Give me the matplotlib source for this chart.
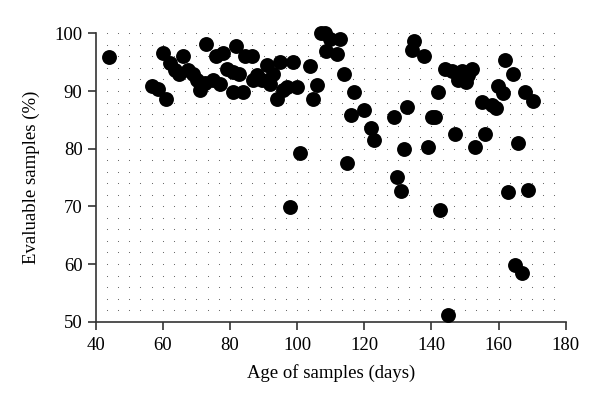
import numpy as np
import matplotlib
matplotlib.use("Agg")
from matplotlib import pyplot as plt

# age of samples (days) and evaluable samples (%)
age = [44.0, 56.7, 58.6, 60.9, 60.0, 62.1, 63.6, 64.9, 65.9, 67.6,
       69.1, 70.1, 71.1, 72.9, 72.6, 74.9, 77.0, 75.8, 78.0, 79.0,
       80.8, 82.8, 81.8, 80.8, 84.0, 84.5, 86.5, 90.9, 94.9, 98.9,
       103.8, 92.9, 88.0, 87.0, 89.4, 91.9, 96.9, 99.9, 95.7, 93.9,
       105.8, 104.8, 107.0, 108.3, 109.8, 112.8, 108.6, 111.8, 114.0, 117.0,
       116.0, 119.9, 122.0, 122.9, 100.9, 114.8, 128.9, 132.6, 131.8, 134.8,
       134.1, 137.8, 144.1, 146.0, 149.0, 152.0, 148.0, 150.3, 151.0, 161.9,
       164.2, 159.9, 161.2, 167.9, 170.2, 142.1, 155.0, 158.0, 159.2, 140.1,
       141.1, 147.0, 156.0, 139.1, 153.0, 165.9, 129.9, 131.0, 97.9, 142.6,
       162.9, 168.9, 164.9, 167.1, 145.0]
evaluable = [95.9, 90.8, 90.4, 88.7, 96.6, 94.9, 93.6, 92.9, 96.1, 93.7,
             93.0, 91.9, 90.2, 98.1, 91.4, 91.9, 91.3, 96.0, 96.6, 93.9,
             93.3, 93.0, 97.8, 89.9, 89.9, 96.0, 96.0, 94.5, 95.0, 95.0,
             94.4, 93.0, 92.8, 91.9, 91.9, 91.3, 90.7, 90.7, 90.2, 88.7,
             91.1, 88.6, 100.1, 100.1, 99.1, 99.1, 97.0, 96.4, 92.9, 89.8,
             85.9, 86.7, 83.5, 81.5, 79.3, 77.5, 85.5, 87.2, 79.9, 98.7,
             97.1, 96.0, 93.9, 93.5, 93.5, 93.9, 91.9, 91.6, 92.8, 95.4,
             92.9, 90.8, 89.6, 89.9, 88.3, 89.9, 88.1, 87.6, 87.0, 85.5,
             85.5, 82.5, 82.5, 80.3, 80.3, 81.0, 75.1, 72.7, 69.9, 69.4,
             72.5, 72.9, 59.9, 58.4, 51.2]

xticks = [40, 60, 80, 100, 120, 140, 160, 180]
yticks = [50, 60, 70, 80, 90, 100]

plt.rcParams["font.family"] = ["Liberation Serif", "DejaVu Serif"]

fig = plt.figure(figsize=(6.0, 4.07), dpi=100)
ax = fig.add_axes([0.1595, 0.2096, 0.7833, 0.7085])

# dotted lattice background
gx = 40 + np.arange(1, 42) * 10 / 3
gy = np.arange(52, 101, 2)
GX, GY = np.meshgrid(gx, gy)
ax.scatter(GX.ravel(), GY.ravel(), s=0.6, color="#555555", linewidths=0, zorder=1)

ax.scatter(age, evaluable, s=115, color="black", linewidths=0, zorder=3, clip_on=False)

ax.set_xlim(40, 180)
ax.set_ylim(50, 100)
ax.set_xticks(xticks)
ax.set_yticks(yticks)
ax.tick_params(direction="out", length=6, width=1.2, labelsize=13.5, color="#333333")
ax.tick_params(axis="x", pad=5)
for side in ("top", "right"):
    ax.spines[side].set_visible(False)
for side in ("left", "bottom"):
    ax.spines[side].set_linewidth(1.2)
    ax.spines[side].set_color("#333333")

ax.set_xlabel("Age of samples (days)", fontsize=13.5, labelpad=7)
ax.set_ylabel("Evaluable samples (%)", fontsize=13.5, labelpad=10)

fig.savefig("out.png", dpi=100)
